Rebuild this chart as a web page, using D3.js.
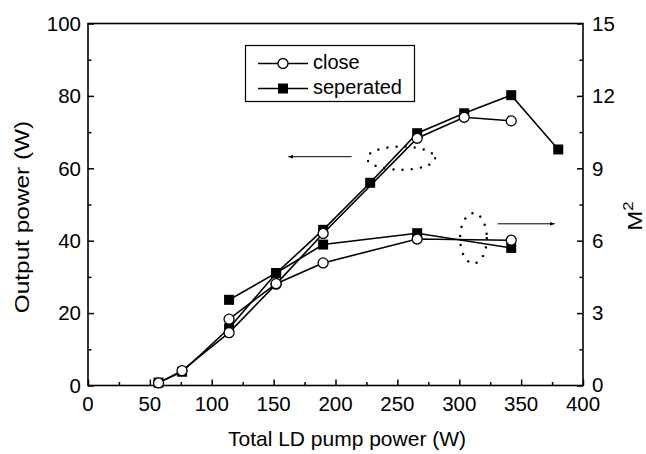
<!DOCTYPE html>
<html><head><meta charset="utf-8">
<script src="https://cdn.jsdelivr.net/npm/d3@7"></script>
<style>body{margin:0;background:#fff}text{font-family:"Liberation Sans",Arial,sans-serif;fill:#000}</style>
</head><body>
<svg id="c" width="646" height="454"></svg>
<script>
// ---- data ----
const pumpClose = [57, 76, 114, 152, 190, 266, 304, 342];
const powerClose = [0.7, 4.1, 14.6, 28.0, 42.0, 68.3, 74.1, 73.1];
const pumpSep = [57, 76, 114, 152, 190, 228, 266, 304, 342, 380];
const powerSep = [0.8, 3.8, 15.8, 31.0, 43.0, 56.0, 69.7, 75.2, 80.2, 65.2];
const pumpM2 = [114, 152, 190, 266, 342];
const m2Close = [2.75, 4.22, 5.08, 6.07, 6.02];
const m2Sep = [3.55, 4.66, 5.84, 6.31, 5.70];
const xTicks = [0, 50, 100, 150, 200, 250, 300, 350, 400];
const yLeftTicks = [0, 20, 40, 60, 80, 100];
const yRightTicks = [0, 3, 6, 9, 12, 15];
const legendLabels = ["close", "seperated"];

const svg = d3.select("#c");
const L = 88, R = 583, T = 23.5, B = 385.5;
const x = d3.scaleLinear().domain([0, 400]).range([L, R]);
const y = d3.scaleLinear().domain([0, 100]).range([B, T]);
const y2 = d3.scaleLinear().domain([0, 15]).range([B, T]);

// axes
const fs = 20.5;
const ax = svg.append("g").attr("transform", `translate(0,${B})`)
  .call(d3.axisBottom(x).tickValues(d3.range(0, 401, 25)).tickSize(-6).tickFormat(""));
ax.selectAll(".tick line").attr("y2", d => d % 50 === 0 ? -6 : -3.5);
const ay = svg.append("g").attr("transform", `translate(${L},0)`)
  .call(d3.axisLeft(y).tickValues(d3.range(0, 101, 10)).tickSize(-6).tickFormat(""));
ay.selectAll(".tick line").attr("x2", d => d % 20 === 0 ? 6 : 3.5);
const ay2 = svg.append("g").attr("transform", `translate(${R},0)`)
  .call(d3.axisRight(y2).tickValues(d3.range(0, 15.01, 1.5)).tickSize(-6).tickFormat(""));
ay2.selectAll(".tick line").attr("x2", d => Math.abs(d % 3) < 1e-6 ? -6 : -3.5);
svg.selectAll(".domain").remove();
svg.selectAll(".tick line").attr("stroke", "#000").attr("stroke-width", 1.5);

// frame
svg.append("rect").attr("x", L).attr("y", T).attr("width", R - L).attr("height", B - T)
  .attr("fill", "none").attr("stroke", "#000").attr("stroke-width", 1.6);

// tick labels
svg.append("g").selectAll("text").data(xTicks).join("text")
  .attr("x", d => x(d)).attr("y", 411).attr("text-anchor", "middle").attr("font-size", fs).text(d => d);
svg.append("g").selectAll("text").data(yLeftTicks).join("text")
  .attr("x", 81).attr("y", d => y(d)).attr("dy", "0.36em").attr("text-anchor", "end").attr("font-size", fs).text(d => d);
svg.append("g").selectAll("text").data(yRightTicks).join("text")
  .attr("x", 592).attr("y", d => y2(d) - (d === 0 ? 1 : 0)).attr("dy", "0.36em").attr("text-anchor", "start").attr("font-size", fs).text(d => d);

// titles
svg.append("text").attr("x", 347).attr("y", 446).attr("text-anchor", "middle").attr("font-size", 21)
  .text("Total LD pump power (W)");
svg.append("text").attr("transform", "translate(29,217) rotate(-90) scale(1.22,1)").attr("text-anchor", "middle")
  .attr("font-size", 20).text("Output power (W)");
const m2t = svg.append("text").attr("transform", "translate(642,216) rotate(-90) scale(1.2,1)").attr("text-anchor", "middle")
  .attr("font-size", 20);
m2t.append("tspan").text("M");
m2t.append("tspan").attr("font-size", 14).attr("dy", -9).text("2");

// lines
const line = d3.line().x(d => x(d[0])).y(d => d[1]);
const series = [
  {px: pumpSep, v: powerSep, s: y, sym: "sq"},
  {px: pumpClose, v: powerClose, s: y, sym: "ci"},
  {px: pumpM2, v: m2Sep, s: y2, sym: "sq"},
  {px: pumpM2, v: m2Close, s: y2, sym: "ci"}
];
series.forEach(sr => {
  const pts = sr.px.map((p, i) => [p, sr.s(sr.v[i])]);
  svg.append("path").attr("d", line(pts)).attr("fill", "none").attr("stroke", "#000").attr("stroke-width", 1.6);
});
series.forEach(sr => {
  const pts = sr.px.map((p, i) => [p, sr.s(sr.v[i])]);
  const g = svg.append("g");
  if (sr.sym === "sq") {
    g.selectAll("rect").data(pts).join("rect")
      .attr("x", d => x(d[0]) - 5).attr("y", d => d[1] - 5).attr("width", 10).attr("height", 10).attr("fill", "#000");
  } else {
    g.selectAll("circle").data(pts).join("circle")
      .attr("cx", d => x(d[0])).attr("cy", d => d[1]).attr("r", 5)
      .attr("fill", "#fff").attr("stroke", "#000").attr("stroke-width", 1.3);
  }
});

// annotations: dotted ellipses & arrows
const dotted = {"stroke": "#000", "stroke-width": 2.4, "stroke-dasharray": "0.1,9", "stroke-linecap": "round", "fill": "none"};
const e1 = svg.append("ellipse").attr("cx", x(253)).attr("cy", y(62.8)).attr("rx", x(27.5) - x(0)).attr("ry", y(0) - y(3.2));
const e2 = svg.append("ellipse").attr("cx", x(311.5)).attr("cy", y2(6.1)).attr("rx", x(10.8) - x(0)).attr("ry", y2(0) - y2(1.04));
[e1, e2].forEach(e => Object.entries(dotted).forEach(([k, v]) => e.attr(k, v)));

svg.append("defs").append("marker").attr("id", "ah").attr("viewBox", "0 0 10 10").attr("refX", 9).attr("refY", 5)
  .attr("markerWidth", 7).attr("markerHeight", 5).attr("orient", "auto")
  .append("path").attr("d", "M0,1.5 L10,5 L0,8.5 Z").attr("fill", "#000");
svg.append("line").attr("x1", x(213)).attr("x2", x(162)).attr("y1", y(63.2)).attr("y2", y(63.2))
  .attr("stroke", "#000").attr("stroke-width", 1).attr("marker-end", "url(#ah)");
svg.append("line").attr("x1", x(331)).attr("x2", x(377)).attr("y1", y2(6.7)).attr("y2", y2(6.7))
  .attr("stroke", "#000").attr("stroke-width", 1).attr("marker-end", "url(#ah)");

// legend
const lg = svg.append("g");
lg.append("rect").attr("x", 245.5).attr("y", 45.5).attr("width", 169).attr("height", 56)
  .attr("fill", "#fff").attr("stroke", "#000").attr("stroke-width", 1.2);
legendLabels.forEach((lab, i) => {
  const cy = 63.5 + i * 25;
  lg.append("line").attr("x1", 258).attr("x2", 308).attr("y1", cy).attr("y2", cy).attr("stroke", "#000").attr("stroke-width", 1.4);
  if (i === 0) lg.append("circle").attr("cx", 283).attr("cy", cy).attr("r", 5).attr("fill", "#fff").attr("stroke", "#000").attr("stroke-width", 1.3);
  else lg.append("rect").attr("x", 278).attr("y", cy - 5).attr("width", 10).attr("height", 10).attr("fill", "#000");
  lg.append("text").attr("x", 313).attr("y", cy + 5).attr("font-size", 20).text(lab);
});
</script>
</body></html>
